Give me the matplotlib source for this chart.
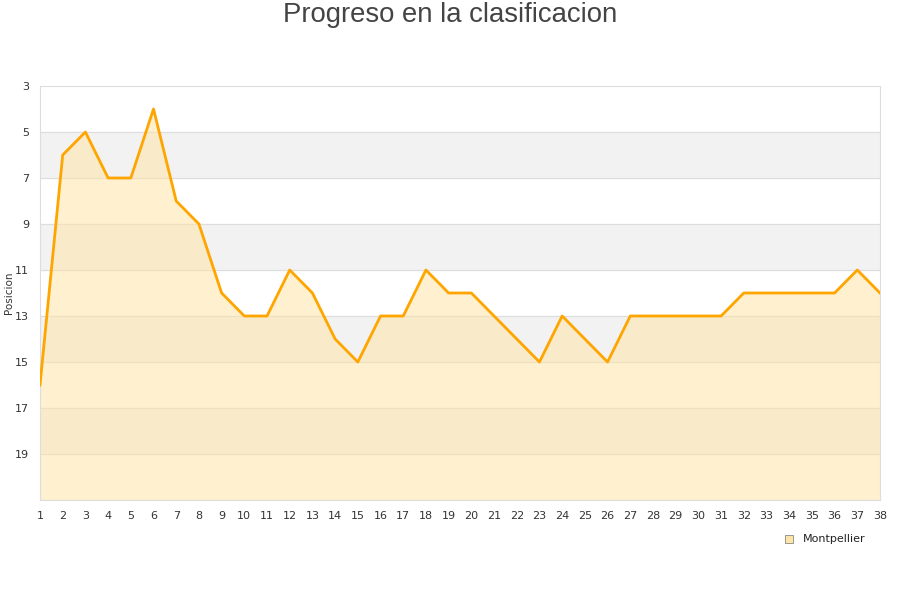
import matplotlib
matplotlib.use('Agg')
import matplotlib.pyplot as plt
import numpy as np

jornadas = list(range(1, 39))
posiciones = [16, 6, 5, 7, 7, 4, 8, 9, 12, 13, 13, 11, 12, 14, 15, 13, 13, 11, 12, 12,
              13, 14, 15, 13, 14, 15, 13, 13, 13, 13, 13, 12, 12, 12, 12, 12, 11, 12]
y_ticks = [3, 5, 7, 9, 11, 13, 15, 17, 19]
equipo = 'Montpellier'

plt.rcParams['font.family'] = ['DejaVu Sans']
fig = plt.figure(figsize=(9, 6), dpi=100)
ax = fig.add_axes([40/900, 100/600, 840/900, 414/600])

# bandas alternas
for lo in range(5, 21, 4):
    ax.axhspan(lo, lo + 2, color='#f2f2f2', zorder=0)
for t in range(5, 21, 2):
    ax.axhline(t, color='#dddddd', lw=0.8, zorder=1)

ax.fill_between(jornadas, posiciones, 21, color='#ffe4a8', alpha=0.55, zorder=2, lw=0)
ax.plot(jornadas, posiciones, color='#ffa500', lw=2.0, zorder=3)

ax.set_xlim(1, 38)
ax.set_ylim(21, 3)
ax.set_xticks(jornadas)
ax.set_yticks(y_ticks)
ax.tick_params(axis='both', length=0, labelsize=8, colors='#333333')
ax.tick_params(axis='x', pad=8)
ax.tick_params(axis='y', pad=8)
for s in ax.spines.values():
    s.set_color('#dddddd')
fig.text(9/900, 1 - 293/600, 'Posicion', rotation=90, ha='center', va='center',
         fontsize=7.5, color='#333333')

fig.text(0.5, 0.997, 'Progreso en la clasificacion', ha='center', va='top',
         fontsize=19.8, color='#444444', family='Liberation Sans')

fig.patches.append(plt.Rectangle((785/900, 1 - 543/600), 8/900, 8/600,
                                 transform=fig.transFigure, facecolor='#ffe4a8',
                                 edgecolor='#888888', lw=0.6))
fig.text(803/900, 1 - 539/600, equipo, fontsize=8, va='center', color='#222222')

fig.savefig('out.png')
